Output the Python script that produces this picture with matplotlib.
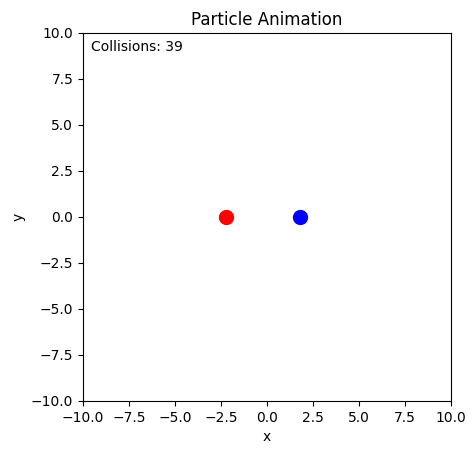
import matplotlib
matplotlib.use("Agg")
from matplotlib import pyplot as plt

# Particle positions (x, y) and colours
particle_x = [-2.25, 1.8]
particle_y = [0.0, 0.0]
particle_colors = ['red', 'blue']
collisions = 39

fig = plt.figure(figsize=(4.76, 4.55), dpi=100)
ax = fig.add_axes([0.1744, 0.1187, 0.7731, 0.8088])

for x, y, c in zip(particle_x, particle_y, particle_colors):
    ax.plot(x, y, 'o', color=c, markersize=10)

ax.set_xlim(-10, 10)
ax.set_ylim(-10, 10)
ax.set_aspect('equal')
ax.set_xlabel('x')
ax.set_ylabel('y')
ax.set_title('Particle Animation')
ax.text(0.022, 0.95, f'Collisions: {collisions}', transform=ax.transAxes)

fig.savefig('out.png', dpi=100)
